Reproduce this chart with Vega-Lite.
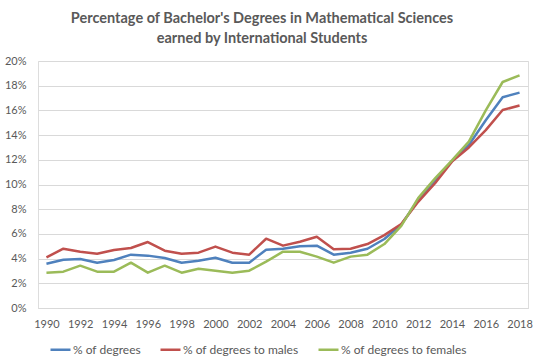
{
  "$schema": "https://vega.github.io/schema/vega-lite/v6.json",
  "autosize": {"type": "none"},
  "width": 490,
  "height": 247,
  "padding": {"left": 38, "top": 61, "right": 12, "bottom": 56},
  "background": "white",
  "title": {
    "text": ["Percentage of Bachelor's Degrees in Mathematical Sciences", "earned by International Students"],
    "font": "Lato",
    "fontSize": 14.5,
    "fontWeight": "bold",
    "color": "#595959",
    "anchor": "middle",
    "dx": -21,
    "offset": 9,
    "lineHeight": 20
  },
  "data": {
    "values": [
      {"year": 1990, "deg": 3.59, "male": 4.10, "female": 2.86},
      {"year": 1991, "deg": 3.91, "male": 4.80, "female": 2.94},
      {"year": 1992, "deg": 3.97, "male": 4.56, "female": 3.43},
      {"year": 1993, "deg": 3.67, "male": 4.40, "female": 2.94},
      {"year": 1994, "deg": 3.89, "male": 4.70, "female": 2.94},
      {"year": 1995, "deg": 4.32, "male": 4.86, "female": 3.67},
      {"year": 1996, "deg": 4.24, "male": 5.34, "female": 2.86},
      {"year": 1997, "deg": 4.05, "male": 4.64, "female": 3.43},
      {"year": 1998, "deg": 3.67, "male": 4.40, "female": 2.86},
      {"year": 1999, "deg": 3.83, "male": 4.48, "female": 3.18},
      {"year": 2000, "deg": 4.07, "male": 4.97, "female": 3.02},
      {"year": 2001, "deg": 3.67, "male": 4.48, "female": 2.86},
      {"year": 2002, "deg": 3.67, "male": 4.32, "female": 3.02},
      {"year": 2003, "deg": 4.72, "male": 5.61, "female": 3.75},
      {"year": 2004, "deg": 4.80, "male": 5.05, "female": 4.56},
      {"year": 2005, "deg": 5.00, "male": 5.37, "female": 4.56},
      {"year": 2006, "deg": 5.05, "male": 5.77, "female": 4.16},
      {"year": 2007, "deg": 4.32, "male": 4.75, "female": 3.67},
      {"year": 2008, "deg": 4.48, "male": 4.80, "female": 4.16},
      {"year": 2009, "deg": 4.80, "male": 5.18, "female": 4.32},
      {"year": 2010, "deg": 5.59, "male": 5.90, "female": 5.18},
      {"year": 2011, "deg": 6.75, "male": 6.80, "female": 6.65},
      {"year": 2012, "deg": 8.74, "male": 8.60, "female": 8.90},
      {"year": 2013, "deg": 10.3, "male": 10.1, "female": 10.5},
      {"year": 2014, "deg": 11.9, "male": 11.85, "female": 11.95},
      {"year": 2015, "deg": 13.2, "male": 13.0, "female": 13.47},
      {"year": 2016, "deg": 15.2, "male": 14.4, "female": 16.0},
      {"year": 2017, "deg": 17.06, "male": 16.03, "female": 18.3},
      {"year": 2018, "deg": 17.44, "male": 16.4, "female": 18.84}
    ]
  },
  "transform": [
    {"fold": ["deg", "male", "female"], "as": ["key", "value"]}
  ],
  "mark": {"type": "line", "strokeWidth": 2.5, "strokeJoin": "round"},
  "encoding": {
    "x": {
      "field": "year",
      "type": "quantitative",
      "scale": {"domain": [1989.5, 2018.5], "nice": false, "zero": false},
      "axis": {
        "title": null,
        "values": [1990, 1992, 1994, 1996, 1998, 2000, 2002, 2004, 2006, 2008, 2010, 2012, 2014, 2016, 2018],
        "format": "d",
        "grid": false,
        "ticks": false,
        "tickSize": 0,
        "domain": true,
        "domainColor": "#D9D9D9",
        "labelFont": "Lato",
        "labelFontSize": 11,
        "labelColor": "#595959",
        "labelPadding": 10
      }
    },
    "y": {
      "field": "value",
      "type": "quantitative",
      "scale": {"domain": [0, 20], "nice": false},
      "axis": {
        "title": null,
        "values": [0, 2, 4, 6, 8, 10, 12, 14, 16, 18, 20],
        "labelExpr": "datum.value + '%'",
        "grid": true,
        "gridColor": "#D9D9D9",
        "gridWidth": 1,
        "domain": false,
        "ticks": false,
        "tickSize": 0,
        "labelFont": "Lato",
        "labelFontSize": 11,
        "labelColor": "#595959",
        "labelPadding": 12
      }
    },
    "color": {
      "field": "key",
      "type": "nominal",
      "scale": {
        "domain": ["deg", "male", "female"],
        "range": ["#4F81BD", "#C0504D", "#9BBB59"]
      },
      "legend": {
        "title": null,
        "orient": "none",
        "direction": "horizontal",
        "legendX": 11,
        "legendY": 277,
        "symbolType": "stroke",
        "symbolSize": 400,
        "symbolStrokeWidth": 2.5,
        "symbolOffset": 0,
        "labelOffset": 1,
        "columnPadding": 14,
        "labelFont": "Lato",
        "labelFontSize": 12,
        "labelColor": "#595959",
        "labelExpr": "datum.value == 'deg' ? '% of degrees' : (datum.value == 'male' ? '% of degrees to males' : '% of degrees to females')"
      }
    }
  }
}
